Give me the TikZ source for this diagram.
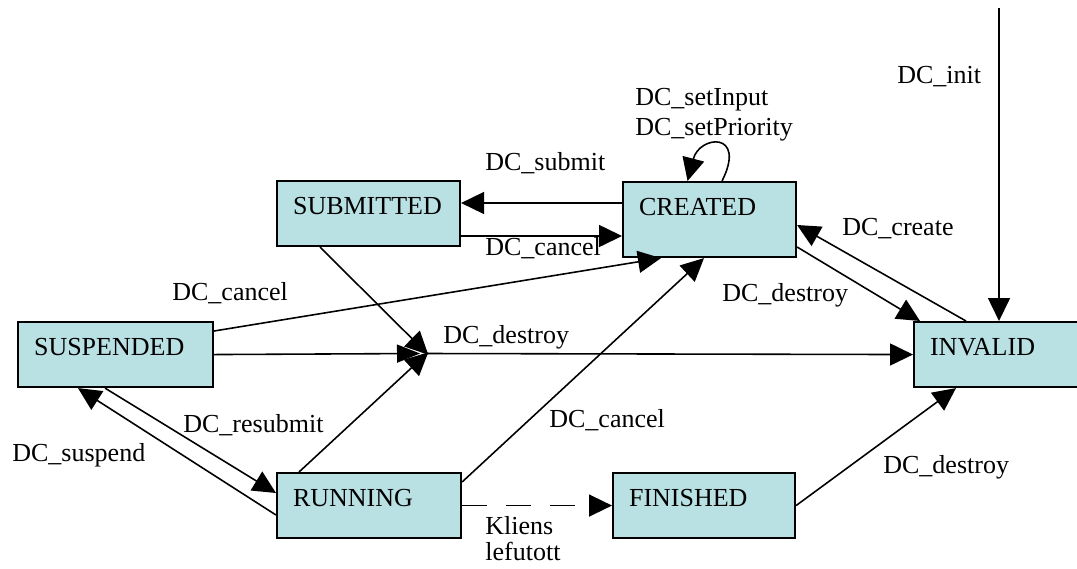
\documentclass[tikz,border=0pt]{standalone}
\usepackage{fontspec}
\setmainfont{Liberation Serif}
\usepackage{tikz}
\usetikzlibrary{arrows.meta}
\definecolor{statefill}{RGB}{185,224,227}

\begin{document}
\begin{tikzpicture}[
    x=0.02cm, y=-0.02cm,
    >={Triangle[length=0.46cm, width=0.44cm]},
    every node/.style={font=\fontsize{14.8pt}{15pt}\selectfont},
    state/.style={draw, line width=1.2pt, fill=statefill, anchor=north west, inner xsep=0.32cm, inner ysep=0pt, text height=0.66cm, text depth=0.64cm, align=left},
    lbl/.style={anchor=base west, inner sep=0pt},
    conn/.style={->, line width=0.9pt}
]
\useasboundingbox (0,0) rectangle (1077,568);
\node[state, text width=3.02cm] (sub) at (276,180) {SUBMITTED};
\node[state, text width=2.82cm, text depth=0.84cm] (cre) at (622,181) {CREATED};
\node[state, text width=3.26cm] (sus) at (17,321) {SUSPENDED};
\node[state, text width=3.04cm] (run) at (276,472) {RUNNING};
\node[state, text width=3.00cm] (fin) at (612,472) {FINISHED};
\node[state, text width=3.16cm] (inv) at (913,321) {INVALID};
\coordinate (init) at (999,8);
\coordinate (jct) at (427,353.5);
\draw[conn] (init) -- (init |- inv.north);
\draw[conn] (cre.west |- 0,203) -- (sub.east |- 0,203);
\draw[conn] (sub.east |- 0,236) -- (cre.west |- 0,236);
\draw[conn] ([xshift=0.25cm]cre.north) .. controls +(25,-50) and +(12,-46) .. ([xshift=-0.44cm]cre.north);
\draw[conn] (sus.east |- 0,331) -- (cre.south -| 661,0);
\draw[conn, {Triangle[length=0.46cm, width=0.36cm]}-] ([xshift=-0.14cm]jct) -- (sus.east);
\draw[conn, shorten >=-1pt] (sub.south -| 320,0) -- (jct);
\draw[conn, shorten >=-1pt] (run.north -| 299,0) -- (jct);
\draw[conn] (jct) -- (inv.west);
\draw[conn] (sus.south -| 105,0) -- (run.west |- 0,493);
\draw[conn] (run.west |- 0,515) -- (sus.south -| 78,0);
\draw[conn] (run.east |- 0,482) -- (cre.south -| 704,0);
\draw[conn, dash pattern=on 0.5cm off 0.38cm] (run.east) -- (fin.west);
\draw[conn] (fin.east) -- (inv.south -| 956,0);
\draw[conn] (cre.east |- 0,247) -- (inv.north -| 920,0);
\draw[conn] (inv.north -| 966,0) -- (cre.east |- 0,225);
\node[lbl] (linit) at (897,83) {DC\_init};
\node[lbl] (linput) at (635,105) {DC\_setInput};
\node[lbl] (lprio) at (635,135) {DC\_setPriority};
\node[lbl] (lsubmit) at (485,170) {DC\_submit};
\node[lbl] (lcancela) at (485,255) {DC\_cancel};
\node[lbl] (lcreate) at (842,235) {DC\_create};
\node[lbl] (ldestroya) at (722,301) {DC\_destroy};
\node[lbl] (lcancelb) at (172,300) {DC\_cancel};
\node[lbl] (ldestroyb) at (443,343) {DC\_destroy};
\node[lbl] (lresubmit) at (183,432) {DC\_resubmit};
\node[lbl] (lsuspend) at (12,461) {DC\_suspend};
\node[lbl] (lcancelc) at (549,427) {DC\_cancel};
\node[lbl] (ldestroyc) at (883,473) {DC\_destroy};
\node[lbl, anchor=north west, align=left] (lkliens) at (485,516) {Kliens\\lefutott};
\end{tikzpicture}
\end{document}
